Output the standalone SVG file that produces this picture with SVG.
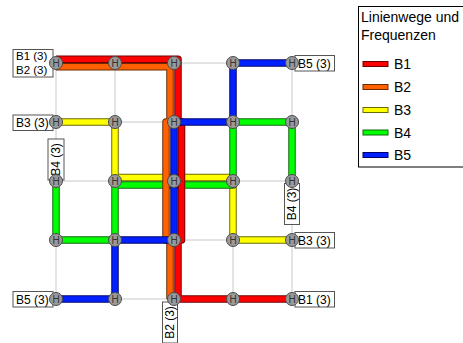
<svg xmlns="http://www.w3.org/2000/svg" width="463" height="343" viewBox="0 0 463 343">
<style>
.grid{stroke:#c8c8c8;stroke-width:1;fill:none}
.ol{fill:none;stroke-width:7.5;stroke-linejoin:round;stroke-linecap:butt}
.ln{fill:none;stroke-width:5.5;stroke-linejoin:round;stroke-linecap:butt}
.node circle{fill:#9a9a9a;stroke:#4a4a4a;stroke-width:1}
.node text{font-family:"Liberation Sans",Arial,sans-serif;font-size:10px;fill:#333;text-anchor:middle}
.lbl rect{fill:#fff;stroke:#555;stroke-width:1}
.lbl text{font-family:"Liberation Sans",Arial,sans-serif;font-size:12px;fill:#000}
.lbl text.sm{font-size:11.5px}
.leg text{font-family:"Liberation Sans",Arial,sans-serif;font-size:14px;fill:#000}
.sw{stroke-width:1}
</style>
<rect width="463" height="343" fill="#fff"/>
<g id="connectors">
  <g id="grid">
    <path class="grid" d="M56,63H292M56,122H292M56,181H292M56,240H292M56,299H292M56,63V299M115,63V299M174,63V299M233,63V299M292,63V299"/>
  </g>
  <g id="B3">
    <path class="ol" stroke="#6b6b00" d="M56,122H115V177.5H233V240H292"/>
    <path class="ln" stroke="#ffff00" d="M56,122H115V177.5H233V240H292"/>
  </g>
  <g id="B4">
    <path class="ol" stroke="#0a6a0a" d="M56,181V240H115V185H233V122H292V181"/>
    <path class="ln" stroke="#00ff00" d="M56,181V240H115V185H233V122H292V181"/>
  </g>
  <g id="B2">
    <path class="ol" stroke="#6b2a00" d="M56,66.7H170V122H166V240H170V299"/>
    <path class="ln" stroke="#ff6000" d="M56,66.7H170V122H166V240H170V299"/>
  </g>
  <g id="B1">
    <path class="ol" stroke="#700000" d="M56,59.3H178V122H181.5V240H178V299H292"/>
    <path class="ln" stroke="#ff0000" d="M56,59.3H178V122H181.5V240H178V299H292"/>
  </g>
  <g id="B5">
    <path class="ol" stroke="#00006b" d="M292,63H233V122H174V240H115V299H56"/>
    <path class="ln" stroke="#0020ff" d="M292,63H233V122H174V240H115V299H56"/>
  </g>
</g>
<g id="labels">
  <g class="lbl" id="lbl-b1b2">
    <rect x="13" y="49.5" width="40" height="27.5"/>
    <text class="sm" x="16" y="60.3">B1 (3)</text>
    <text class="sm" x="16" y="73.6">B2 (3)</text>
  </g>
  <g class="lbl" id="lbl-b3-left">
    <rect x="13" y="115" width="40" height="15.5"/>
    <text x="16" y="127">B3 (3)</text>
  </g>
  <g class="lbl" id="lbl-b5-left">
    <rect x="13" y="291.5" width="40" height="15.5"/>
    <text x="16" y="303.5">B5 (3)</text>
  </g>
  <g class="lbl" id="lbl-b5-right">
    <rect x="295" y="55.5" width="39.5" height="15.5"/>
    <text x="298" y="67.5">B5 (3)</text>
  </g>
  <g class="lbl" id="lbl-b3-right">
    <rect x="295" y="232.5" width="39.5" height="15.5"/>
    <text x="298" y="244.5">B3 (3)</text>
  </g>
  <g class="lbl" id="lbl-b1-right">
    <rect x="295" y="291.5" width="39.5" height="15.5"/>
    <text x="298" y="303.5">B1 (3)</text>
  </g>
  <g class="lbl" id="lbl-b4-left">
    <rect x="48" y="139" width="16" height="41"/>
    <text transform="translate(56,159.5) rotate(-90)" x="0" y="4.3" text-anchor="middle">B4 (3)</text>
  </g>
  <g class="lbl" id="lbl-b4-right">
    <rect x="284.5" y="183.5" width="15" height="41"/>
    <text transform="translate(292,204) rotate(-90)" x="0" y="4.3" text-anchor="middle">B4 (3)</text>
  </g>
  <g class="lbl" id="lbl-b2-bottom">
    <rect x="162.5" y="302" width="15" height="41"/>
    <text transform="translate(170,322.5) rotate(-90)" x="0" y="4.3" text-anchor="middle">B2 (3)</text>
  </g>
</g>
<g id="nodes">
  <g class="node" id="n-0-0"><circle cx="56" cy="63" r="6.5"/><text x="56" y="66.6">H</text></g>
  <g class="node" id="n-1-0"><circle cx="115" cy="63" r="6.5"/><text x="115" y="66.6">H</text></g>
  <g class="node" id="n-2-0"><circle cx="174" cy="63" r="6.5"/><text x="174" y="66.6">H</text></g>
  <g class="node" id="n-3-0"><circle cx="233" cy="63" r="6.5"/><text x="233" y="66.6">H</text></g>
  <g class="node" id="n-4-0"><circle cx="292" cy="63" r="6.5"/><text x="292" y="66.6">H</text></g>
  <g class="node" id="n-0-1"><circle cx="56" cy="122" r="6.5"/><text x="56" y="125.6">H</text></g>
  <g class="node" id="n-1-1"><circle cx="115" cy="122" r="6.5"/><text x="115" y="125.6">H</text></g>
  <g class="node" id="n-2-1"><circle cx="174" cy="122" r="6.5"/><text x="174" y="125.6">H</text></g>
  <g class="node" id="n-3-1"><circle cx="233" cy="122" r="6.5"/><text x="233" y="125.6">H</text></g>
  <g class="node" id="n-4-1"><circle cx="292" cy="122" r="6.5"/><text x="292" y="125.6">H</text></g>
  <g class="node" id="n-0-2"><circle cx="56" cy="181" r="6.5"/><text x="56" y="184.6">H</text></g>
  <g class="node" id="n-1-2"><circle cx="115" cy="181" r="6.5"/><text x="115" y="184.6">H</text></g>
  <g class="node" id="n-2-2"><circle cx="174" cy="181" r="6.5"/><text x="174" y="184.6">H</text></g>
  <g class="node" id="n-3-2"><circle cx="233" cy="181" r="6.5"/><text x="233" y="184.6">H</text></g>
  <g class="node" id="n-4-2"><circle cx="292" cy="181" r="6.5"/><text x="292" y="184.6">H</text></g>
  <g class="node" id="n-0-3"><circle cx="56" cy="240" r="6.5"/><text x="56" y="243.6">H</text></g>
  <g class="node" id="n-1-3"><circle cx="115" cy="240" r="6.5"/><text x="115" y="243.6">H</text></g>
  <g class="node" id="n-2-3"><circle cx="174" cy="240" r="6.5"/><text x="174" y="243.6">H</text></g>
  <g class="node" id="n-3-3"><circle cx="233" cy="240" r="6.5"/><text x="233" y="243.6">H</text></g>
  <g class="node" id="n-4-3"><circle cx="292" cy="240" r="6.5"/><text x="292" y="243.6">H</text></g>
  <g class="node" id="n-0-4"><circle cx="56" cy="299" r="6.5"/><text x="56" y="302.6">H</text></g>
  <g class="node" id="n-1-4"><circle cx="115" cy="299" r="6.5"/><text x="115" y="302.6">H</text></g>
  <g class="node" id="n-2-4"><circle cx="174" cy="299" r="6.5"/><text x="174" y="302.6">H</text></g>
  <g class="node" id="n-3-4"><circle cx="233" cy="299" r="6.5"/><text x="233" y="302.6">H</text></g>
  <g class="node" id="n-4-4"><circle cx="292" cy="299" r="6.5"/><text x="292" y="302.6">H</text></g>
</g>
<g id="legend" class="leg">
  <rect x="358.5" y="6.5" width="110" height="160.5" fill="#fff" stroke="#000" stroke-width="1"/>
  <text x="361" y="21.5">Linienwege und</text>
  <text x="361" y="40">Frequenzen</text>
  <rect class="sw" x="363" y="61.5" width="25" height="5" fill="#ff0000" stroke="#700000"/>
  <text x="394" y="69">B1</text>
  <rect class="sw" x="363" y="84.5" width="25" height="5" fill="#ff6000" stroke="#6b2a00"/>
  <text x="394" y="92">B2</text>
  <rect class="sw" x="363" y="107.5" width="25" height="5" fill="#ffff00" stroke="#6b6b00"/>
  <text x="394" y="115">B3</text>
  <rect class="sw" x="363" y="130" width="25" height="5" fill="#00ff00" stroke="#0a6a0a"/>
  <text x="394" y="137.5">B4</text>
  <rect class="sw" x="363" y="152.5" width="25" height="5" fill="#0020ff" stroke="#00006b"/>
  <text x="394" y="160">B5</text>
</g>
</svg>
